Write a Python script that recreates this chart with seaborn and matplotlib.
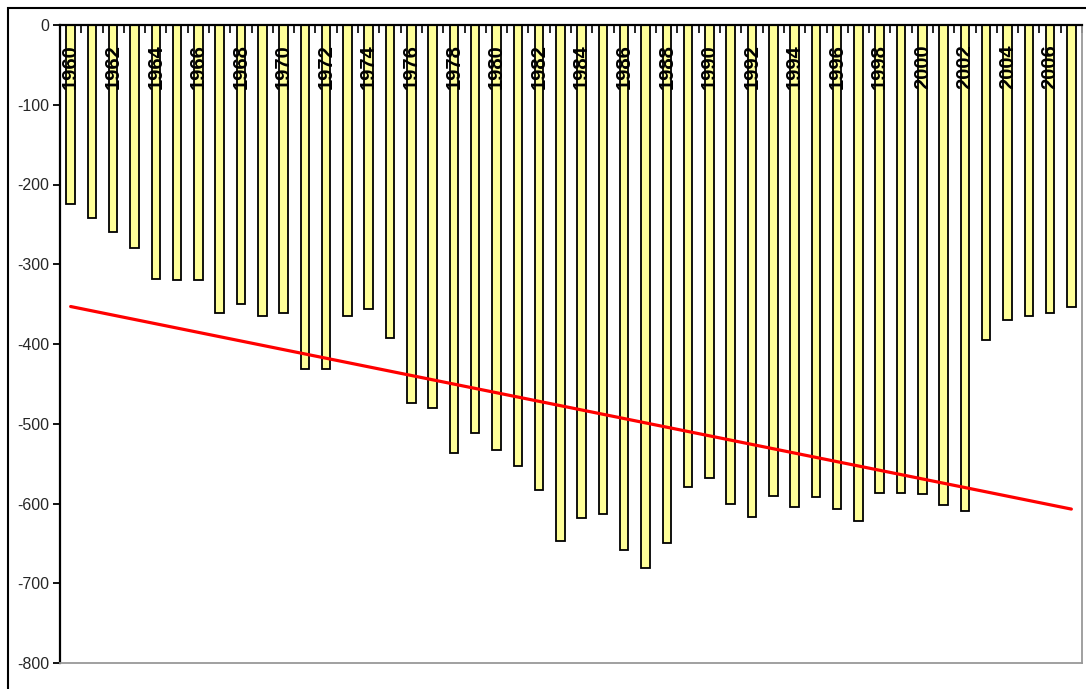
import numpy as np
import pandas as pd
import matplotlib
matplotlib.use("Agg")
import matplotlib.pyplot as plt
from matplotlib.patches import Rectangle
import seaborn as sns

years = list(range(1960, 2008))
values = [-224, -242, -260, -280, -318, -320, -320, -361, -350, -365,
          -361, -431, -431, -365, -356, -392, -474, -480, -537, -512,
          -533, -553, -583, -647, -618, -613, -658, -681, -650, -579,
          -568, -600, -617, -591, -604, -592, -607, -622, -587, -587,
          -588, -602, -609, -395, -370, -365, -361, -354]
trend_start = -353
trend_end = -607
yticks = [0, -100, -200, -300, -400, -500, -600, -700, -800]

sns.set_style("white")
plt.rcParams['font.family'] = ['Liberation Sans', 'DejaVu Sans']

fig = plt.figure(figsize=(10.86, 6.89), dpi=100)
ax = fig.add_axes([60/1086, 1-663/689, (1082-60)/1086, (663-25)/689])

df = pd.DataFrame({"year": [str(y) for y in years], "value": values})
sns.barplot(data=df, x="year", y="value", ax=ax, color="#FFFF99",
            saturation=1, width=0.4, edgecolor="black", linewidth=1.3)

trend = pd.DataFrame({"pos": [0, len(years) - 1], "value": [trend_start, trend_end]})
sns.lineplot(data=trend, x="pos", y="value", ax=ax, color="#FF0000", linewidth=2.3)

ax.set_xlim(-0.5, len(years) - 0.5)
ax.set_ylim(-800, 0)
ax.set_yticks(yticks)
ax.set_yticklabels([str(v) for v in yticks], fontsize=11.5)
ax.tick_params(axis='y', direction='out', length=5, width=1.3, color='black', pad=3, left=True)
ax.set_xlabel("")
ax.set_ylabel("")

# x axis: ticks at category boundaries, pointing into plot from the top (value 0) line
ax.set_xticks([])
ax.set_xticks(np.arange(-0.5, len(years), 1), minor=True)
ax.xaxis.set_ticks_position('top')
ax.tick_params(axis='x', which='minor', direction='in', length=6, width=1.2, color='black',
               top=True, bottom=False, labeltop=False, labelbottom=False)

tr = ax.get_xaxis_transform()
for i, y in enumerate(years):
    if (y - years[0]) % 2 == 0:
        ax.text(i, 1 - 19/638, str(y), transform=tr, rotation=90, ha='center', va='top',
                fontsize=14.5, fontweight='bold', color='black')

for side in ['left', 'top']:
    ax.spines[side].set_color('black')
    ax.spines[side].set_linewidth(1.6)
for side in ['bottom', 'right']:
    ax.spines[side].set_color('#999999')
    ax.spines[side].set_linewidth(1.3)

fig.patches.append(Rectangle((8/1086, -0.2), 1.2, 1 - 8/689 + 0.2, fill=False,
                             edgecolor='black', linewidth=1.5, transform=fig.transFigure))

fig.savefig("out.png", dpi=100)
